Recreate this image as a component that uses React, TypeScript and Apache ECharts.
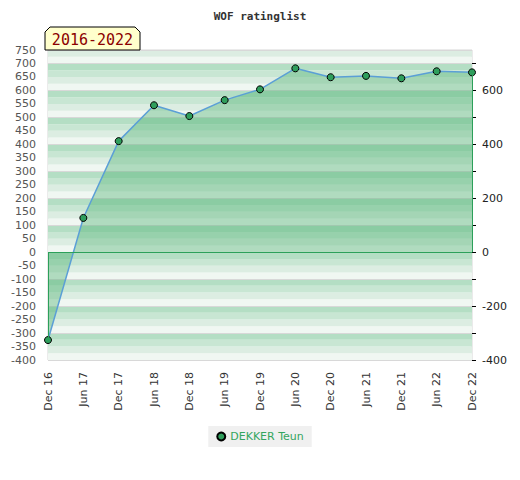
import React, { useEffect, useRef } from "react";
import * as echarts from "echarts";

const categories = ["Dec 16", "Jun 17", "Dec 17", "Jun 18", "Dec 18", "Jun 19", "Dec 19", "Jun 20", "Dec 20", "Jun 21", "Dec 21", "Jun 22", "Dec 22"];
const ratings = [-326, 127, 412, 545, 505, 564, 604, 682, 649, 654, 645, 671, 667];
const seriesName = "DEKKER Teun";
const rightTicks = [-400, -300, -200, -100, 0, 100, 200, 300, 400, 500, 600, 700];
const rightLabels = [-400, -200, 0, 200, 400, 600];
const stripeColors = ["#f0f7f2", "#dcede2", "#c8e6d3", "#b4dec4"];

export default function App() {
  const ref = useRef<HTMLDivElement>(null);
  useEffect(() => {
    const chart = echarts.init(ref.current!, null, { renderer: "svg" });
    const last = categories.length - 1;
    chart.setOption({
      animation: false,
      title: {
        text: "WOF ratinglist",
        left: "center",
        top: 6,
        textStyle: { fontFamily: "DejaVu Sans Mono", fontSize: 11, fontWeight: "bold", color: "#333" },
      },
      grid: { left: 48, right: 48, top: 50, bottom: 120, show: true, borderColor: "#d6d6d6", borderWidth: 1 },
      legend: {
        data: [seriesName],
        bottom: 33,
        left: "center",
        icon: "circle",
        itemWidth: 8,
        itemHeight: 8,
        backgroundColor: "#f0f0f0",
        padding: [5, 8, 5, 8],
        textStyle: { color: "#33a55e", fontSize: 11, fontFamily: "DejaVu Sans" },
      },
      xAxis: {
        type: "category",
        data: categories,
        boundaryGap: false,
        axisLine: { show: false },
        axisTick: { show: false },
        axisLabel: { rotate: 90, color: "#333", fontSize: 11, fontFamily: "DejaVu Sans", margin: 12 },
        splitLine: { show: false },
      },
      yAxis: [
        {
          type: "value",
          min: -400,
          max: 750,
          interval: 50,
          position: "left",
          axisLine: { show: false },
          axisTick: { show: false },
          axisLabel: { color: "#555", fontSize: 11, fontFamily: "DejaVu Sans", margin: 12 },
          splitLine: { show: false },
        },
        {
          type: "value",
          min: -400,
          max: 750,
          position: "right",
          axisLine: { show: false },
          axisTick: { show: true, length: 4, lineStyle: { color: "#000" }, customValues: rightTicks },
          axisLabel: { color: "#222", fontSize: 11, fontFamily: "DejaVu Sans", margin: 10, customValues: rightLabels },
          splitLine: { show: false },
        },
        {
          type: "value",
          min: -400,
          max: 750,
          interval: 25,
          position: "left",
          axisLine: { show: false },
          axisTick: { show: false },
          axisLabel: { show: false },
          splitLine: { show: false },
          splitArea: { show: true, areaStyle: { color: stripeColors } },
        },
        {
          type: "value",
          min: -400,
          max: 750,
          interval: 100,
          position: "left",
          axisLine: { show: false },
          axisTick: { show: false },
          axisLabel: { show: false },
          splitLine: { show: true, lineStyle: { color: "#d8d8d8", width: 1 } },
        },
      ],
      graphic: [
        {
          type: "polygon",
          shape: { points: [[45, 50], [45, 32], [50, 27], [135, 27], [140, 32], [140, 50]] },
          style: { fill: "#ffffcc", stroke: "#000", lineWidth: 1 },
          z: 10,
        },
        {
          type: "text",
          x: 92.5,
          y: 39.5,
          style: {
            text: "2016-2022",
            fill: "#8b0000",
            font: "15px 'DejaVu Sans Mono'",
            align: "center",
            verticalAlign: "middle",
          },
          z: 11,
        },
      ],
      series: [
        {
          name: seriesName,
          type: "line",
          data: ratings,
          yAxisIndex: 0,
          symbol: "circle",
          symbolSize: 7,
          showAllSymbol: true,
          lineStyle: { color: "#5b9fd6", width: 1.5 },
          itemStyle: { color: "#2f9e5c", borderColor: "#000", borderWidth: 1 },
          areaStyle: { color: "rgba(77,175,113,0.56)", origin: "auto" },
          markLine: {
            silent: true,
            symbol: "none",
            label: { show: false },
            lineStyle: { color: "#2ca05a", width: 1, type: "solid" },
            data: [
              { yAxis: 0 },
              [{ coord: [categories[0], 0] }, { coord: [categories[0], ratings[0]] }],
              [{ coord: [categories[last], 0] }, { coord: [categories[last], ratings[last]] }],
            ],
          },
          z: 3,
        },
      ],
    });
    return () => chart.dispose();
  }, []);
  return <div ref={ref} style={{ position: "absolute", left: 0, top: 0, width: 520, height: 480 }} />;
}
